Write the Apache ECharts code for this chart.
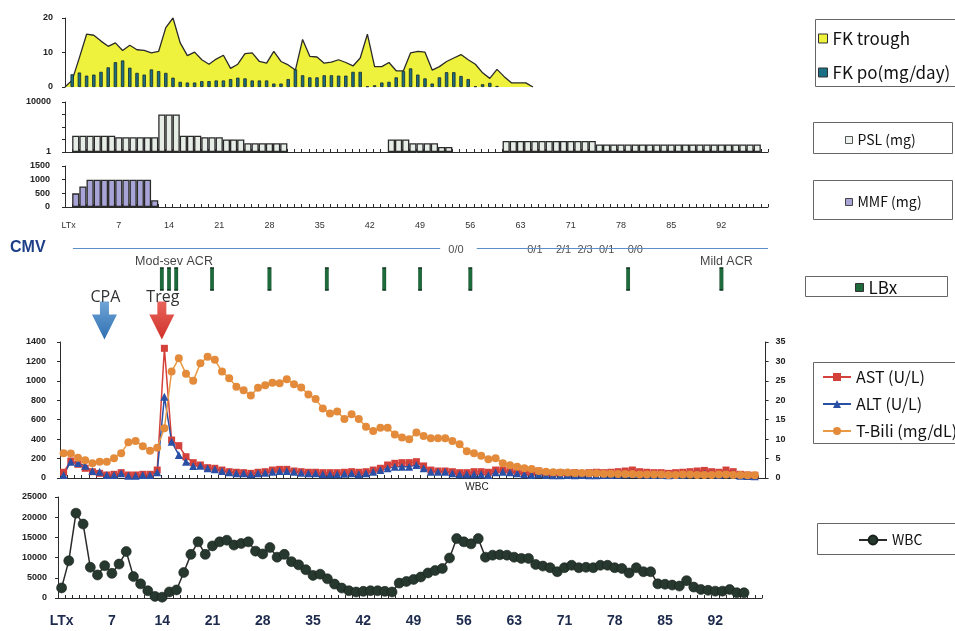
<!DOCTYPE html>
<html>
<head>
<meta charset="utf-8">
<script src="https://cdn.jsdelivr.net/npm/echarts@6/dist/echarts.min.js"></script>
<style>
  html, body { margin: 0; padding: 0; background: #fff; }
  #c { width: 955px; height: 631px; }
</style>
</head>
<body>
<div id="c"></div>
<script>
// ---- Day axis (post-transplant day 0..97) ----
const days = Array.from({ length: 98 }, (_, i) => String(i));
const dayTickLabels = ['LTx', '7', '14', '21', '28', '35', '42', '49', '56', '63', '71', '78', '85', '92'];

// ---- Tacrolimus (FK) ----
const fkTrough = [
  0, 2, 8.5, 15.3, 15, 13.3, 11.8, 12.8, 10.6, 12.1, 10.8, 10.6, 9.9, 10.3, 17.2, 20,
  12.8, 9.1, 10.1, 7.9, 6.6, 8.1, 9.2, 5.4, 6.6, 9.7, 9.9, 7.4, 6.9, 10.3, 7.4, 6.4,
  4.9, 13.8, 8.9, 8.7, 6.9, 7.2, 7.9, 7.1, 6.1, 8.4, 15.3, 5.9, 5.9, 7.1, 4.7, 4.7,
  9.9, 10.3, 10.1, 4.9, 5.9, 7.4, 8.4, 9.4, 7.9, 6.6, 4.1, 2.5, 5.1, 3.0, 1.2, 1.2,
  1.2, 0, null, null, null, null, null, null, null, null, null, null, null, null, null, null,
  null, null, null, null, null, null, null, null, null, null, null, null, null, null, null, null,
  null, null
];
const fkDose = [
  null, 3.7, 4.2, 3.3, 3.6, 4.4, 5.7, 7.2, 7.7, 5.6, 4.1, 3.6, 5.1, 4.6, 4.1, 2.7,
  1.5, 1.3, 1.3, 1.7, 1.7, 1.9, 1.9, 2.3, 2.7, 2.5, 1.9, 1.9, 1.9, 1.0, 1.0, 2.3,
  5.1, 3.4, 2.8, 2.8, 3.4, 3.4, 3.3, 3.3, 4.4, 4.4, 0.2, 0.5, 1.3, 1.5, 2.8, 4.6,
  5.4, 3.6, 2.5, 1.0, 2.8, 4.3, 4.3, 3.2, 2.3, 0.2, 0.8, 1.2, 0.3, null, null, null,
  null, null, null, null, null, null, null, null, null, null, null, null, null, null, null, null,
  null, null, null, null, null, null, null, null, null, null, null, null, null, null, null, null,
  null, null
];

// ---- Prednisolone (mg), log scale ----
const psl = [
  null, 20, 20, 20, 20, 20, 20, 15, 15, 15, 15, 15, 15, 1000, 1000, 1000,
  20, 20, 20, 15, 15, 15, 10, 10, 10, 5, 5, 5, 5, 5, 5, null,
  null, null, null, null, null, null, null, null, null, null, null, null, null, 10, 10, 10,
  5, 5, 5, 5, 2.5, 2.5, null, null, null, null, null, null, null, 7.5, 7.5, 7.5,
  7.5, 7.5, 7.5, 7.5, 7.5, 7.5, 7.5, 7.5, 7.5, 7.5, 4, 4, 4, 4, 4, 4,
  4, 4, 4, 4, 4, 4, 4, 4, 4, 4, 4, 4, 4, 4, 4, 4,
  4, null
];

// ---- Mycophenolate mofetil (mg) ----
const mmf = [
  null, 500, 750, 1000, 1000, 1000, 1000, 1000, 1000, 1000, 1000, 1000, 250, null, null, null,
  null, null, null, null, null, null, null, null, null, null, null, null, null, null, null, null,
  null, null, null, null, null, null, null, null, null, null, null, null, null, null, null, null,
  null, null, null, null, null, null, null, null, null, null, null, null, null, null, null, null,
  null, null, null, null, null, null, null, null, null, null, null, null, null, null, null, null,
  null, null, null, null, null, null, null, null, null, null, null, null, null, null, null, null,
  null, null
];

// ---- CMV antigenemia, biopsies, interventions ----
const cmvDays = [54, 65, 69, 72, 75, 79];
const cmvTexts = ['0/0', '0/1', '2/1', '2/3', '0/1', '0/0'];
const cmvLineSpans = [[0.6, 51.8], [56.9, 97.5]];
const lbxDays = [13, 14, 15, 20, 28, 36, 44, 49, 56, 78, 91];
const acrDays = [14, 91];
const acrTexts = ['Mod-sev ACR', 'Mild ACR'];
const interventionDays = [5, 13];
const interventionNames = ['CPA', 'Treg'];

// ---- Liver tests ----
const ast = [
  59, 175, 141, 100, 65, 48, 31, 38, 55, 31, 31, 38, 38, 82, 1335, 391,
  333, 219, 158, 134, 106, 100, 82, 65, 59, 55, 48, 59, 65, 82, 89, 89,
  72, 65, 59, 59, 55, 55, 55, 59, 65, 59, 65, 82, 100, 134, 151, 158,
  158, 168, 124, 82, 72, 72, 65, 55, 55, 65, 65, 59, 82, 82, 72, 65,
  59, 59, 72, 55, 48, 55, 48, 55, 48, 55, 59, 55, 59, 65, 72, 82,
  65, 59, 55, 55, 48, 55, 59, 65, 72, 78, 65, 59, 82, 65, 38, 31,
  28, null
];
const alt = [
  31, 168, 155, 125, 72, 65, 31, 31, 48, 24, 24, 31, 31, 59, 837, 374,
  237, 168, 124, 127, 100, 89, 72, 59, 48, 48, 38, 48, 55, 65, 72, 72,
  65, 55, 48, 48, 38, 38, 38, 45, 48, 38, 48, 65, 82, 100, 117, 117,
  117, 134, 100, 65, 65, 65, 48, 38, 38, 38, 38, 31, 59, 65, 59, 48,
  38, 31, 38, 31, 28, 28, 31, 28, 31, 28, 28, 31, 31, 34, 38, 45,
  38, 34, 31, 31, 28, 31, 34, 38, 41, 45, 38, 34, 45, 38, 24, 21,
  17, null
];
const tBili = [
  6.4, 6.3, 5.2, 4.6, 3.8, 4.2, 4.2, 5.1, 6.4, 9.2, 9.5, 8.2, 7.0, 7.8, 12.8, 27.4,
  30.8, 26.8, 25.0, 29.5, 31.2, 30.4, 27.4, 25.7, 23.5, 22.6, 21.2, 23.2, 23.9, 24.5, 24.4, 25.4,
  24.1, 23.3, 21.5, 20.3, 17.9, 16.6, 17.1, 15.2, 16.4, 15.2, 13.2, 12.1, 12.9, 12.9, 11.2, 10.4,
  10.0, 11.7, 10.8, 10.2, 10.2, 10.2, 9.5, 8.7, 6.9, 6.4, 5.7, 4.8, 5.1, 3.8, 3.3, 2.9,
  2.5, 2.3, 1.8, 1.6, 1.5, 1.4, 1.4, 1.3, 1.3, 1.2, 1.2, 1.1, 1.1, 1.0, 1.0, 1.0,
  0.9, 0.9, 0.9, 0.9, 0.8, 0.8, 0.9, 0.9, 0.8, 0.8, 0.8, 0.9, 0.9, 0.8, 0.8, 0.7,
  0.7, null
];

// ---- White blood cells ----
const wbc = [
  2500, 9200, 21000, 18300, 7600, 5700, 8000, 6100, 8400, 11500, 5300, 3500, 1800, 400, 200, 1500,
  2000, 6300, 10800, 13900, 10800, 12900, 13900, 14300, 13100, 13500, 13900, 11600, 10900, 12500, 10100, 10800,
  9000, 8200, 7000, 5600, 5900, 4750, 3440, 2460, 1800, 1480, 1640, 1800, 1800, 1640, 1480, 3690,
  4100, 4600, 5200, 6200, 6800, 7300, 9900, 14700, 13900, 13400, 14700, 10100, 10600, 10700, 10600, 10100,
  9800, 9800, 8300, 7900, 7500, 6500, 7500, 8100, 7500, 7600, 7500, 8100, 8100, 7500, 7300, 6200,
  7500, 6500, 6500, 3500, 3400, 3200, 2950, 4300, 2700, 2100, 1900, 1700, 1700, 2100, 1300, 1300,
  null, null
];

// ---- Styling ----
const AXIS = '#2b2b2b';
const LABEL_FONT = 'Liberation Sans';
const LEGEND_FONT = 'Noto Sans CJK JP';

// vertical rows inside the annotation strip (pixels from its top)
const CMV_LINE_ROW = 8, CMV_TEXT_ROW = 10, ACR_ROW = 22, LBX_ROW = 39, ARROW_ROW = 80.5;

const dayLabel = (v, idx) => dayTickLabels[idx / 7] !== undefined ? dayTickLabels[idx / 7] : '';
const plainNumber = v => String(v);

function catAxis(gridIndex, extra) {
  return Object.assign({
    type: 'category', gridIndex, data: days, boundaryGap: true,
    axisLine: { show: true, lineStyle: { color: AXIS, width: 1 } },
    axisTick: { show: true, inside: true, length: 3, interval: 0, lineStyle: { color: AXIS } },
    axisLabel: { show: false },
    splitLine: { show: false }
  }, extra || {});
}
function valLabel(margin) {
  return { fontSize: 9, fontWeight: 'bold', color: '#222', fontFamily: LABEL_FONT, margin, formatter: plainNumber };
}
function valAxis(gridIndex, extra) {
  return Object.assign({
    type: 'value', gridIndex,
    axisLine: { show: true, lineStyle: { color: AXIS, width: 1 } },
    axisTick: { show: true, inside: false, length: 3, lineStyle: { color: AXIS } },
    axisLabel: valLabel(12),
    splitLine: { show: false }
  }, extra || {});
}
const ghost = { color: 'rgba(0,0,0,0)' };

const chart = echarts.init(document.getElementById('c'));

chart.setOption({
  animation: false,
  backgroundColor: '#fff',
  grid: [
    { left: 65, top: 18, width: 698.4, height: 69, outerBoundsMode: 'none' },   // FK
    { left: 65, top: 102, width: 703, height: 50, outerBoundsMode: 'none' },    // PSL
    { left: 65, top: 166, width: 703, height: 41, outerBoundsMode: 'none' },    // MMF
    { left: 65, top: 240, width: 703, height: 105, outerBoundsMode: 'none' },   // annotations
    { left: 60, top: 342, width: 705.6, height: 136, outerBoundsMode: 'none' }, // liver tests
    { left: 58, top: 497, width: 704, height: 101, outerBoundsMode: 'none' }    // WBC
  ],
  xAxis: [
    catAxis(0, { boundaryGap: false, axisLine: { show: false }, axisTick: { show: false } }),
    catAxis(1),
    catAxis(2, {
      axisLabel: { show: true, interval: 6, formatter: dayLabel, fontSize: 9, color: '#333',
                   fontFamily: LABEL_FONT, margin: 14 }
    }),
    { type: 'value', gridIndex: 3, min: -0.5, max: 97.5, show: false },
    catAxis(4),
    catAxis(5, {
      axisLabel: { show: true, interval: 6, formatter: dayLabel, fontSize: 14, fontWeight: 'bold',
                   color: '#1d2a4d', fontFamily: LABEL_FONT, margin: 16 }
    })
  ],
  yAxis: [
    valAxis(0, { min: 0, max: 20, interval: 10 }),
    valAxis(1, {
      type: 'log', logBase: 10, min: 1, max: 10000,
      axisLabel: Object.assign(valLabel(14), { formatter: v => (v === 1 || v === 10000) ? String(v) : '' })
    }),
    valAxis(2, { min: 0, max: 1500, interval: 500, axisLabel: valLabel(15) }),
    { type: 'value', gridIndex: 3, min: 0, max: 105, inverse: true, show: false },
    valAxis(4, { min: 0, max: 1400, interval: 200, axisLabel: valLabel(14) }),
    valAxis(4, { position: 'right', min: 0, max: 35, interval: 5, axisLabel: valLabel(10) }),
    valAxis(5, { min: 0, max: 25000, interval: 5000, axisLabel: valLabel(11) })
  ],
  legend: [
    { data: [
        { name: 'FK trough', itemStyle: { color: '#eef23c', borderColor: '#333', borderWidth: 1 } },
        { name: 'FK po(mg/day)', itemStyle: { color: '#1b6f86', borderColor: '#333', borderWidth: 1 } }
      ],
      orient: 'vertical', left: 818, top: 30, itemWidth: 9, itemHeight: 9, itemGap: 17, icon: 'rect',
      padding: 0, selectedMode: false, textStyle: { fontSize: 17, color: '#111', fontFamily: LEGEND_FONT } },
    { data: [{ name: 'PSL (mg)', itemStyle: { color: '#eef2ee', borderColor: '#555', borderWidth: 1 } }],
      left: 845, top: 133, itemWidth: 7, itemHeight: 7, icon: 'rect', padding: 0, selectedMode: false,
      textStyle: { fontSize: 14, color: '#111', fontFamily: LEGEND_FONT } },
    { data: [{ name: 'MMF (mg)', itemStyle: { color: '#a9a4d8', borderColor: '#444', borderWidth: 1 } }],
      left: 845, top: 195, itemWidth: 7, itemHeight: 7, icon: 'rect', padding: 0, selectedMode: false,
      textStyle: { fontSize: 14, color: '#111', fontFamily: LEGEND_FONT } },
    { data: [{ name: 'LBx', itemStyle: { color: '#1d6a3b', borderColor: '#333', borderWidth: 1 } }],
      left: 855, top: 279, itemWidth: 8, itemHeight: 8, icon: 'rect', padding: 0, selectedMode: false,
      textStyle: { fontSize: 17, color: '#111', fontFamily: LEGEND_FONT } },
    { data: ['AST (U/L)', 'ALT (U/L)', 'T-Bili (mg/dL)'],
      orient: 'vertical', left: 822, top: 369, itemWidth: 28, itemHeight: 10, itemGap: 11, padding: 0,
      selectedMode: false, textStyle: { fontSize: 16, color: '#111', fontFamily: LEGEND_FONT } },
    { data: ['WBC'], left: 858, top: 533, itemWidth: 28, itemHeight: 11, padding: 0, selectedMode: false,
      textStyle: { fontSize: 14, color: '#111', fontFamily: LEGEND_FONT } }
  ],
  graphic: [
    { type: 'rect', shape: { x: 815.5, y: 19.5, width: 160, height: 67 }, style: { fill: 'none', stroke: '#666', lineWidth: 1 } },
    { type: 'rect', shape: { x: 813.5, y: 122.5, width: 139, height: 31 }, style: { fill: 'none', stroke: '#666', lineWidth: 1 } },
    { type: 'rect', shape: { x: 813.5, y: 180.5, width: 139, height: 39 }, style: { fill: 'none', stroke: '#666', lineWidth: 1 } },
    { type: 'rect', shape: { x: 805.5, y: 276.5, width: 142, height: 20 }, style: { fill: 'none', stroke: '#666', lineWidth: 1 } },
    { type: 'rect', shape: { x: 813.5, y: 362.5, width: 160, height: 81 }, style: { fill: 'none', stroke: '#666', lineWidth: 1 } },
    { type: 'rect', shape: { x: 817.5, y: 523.5, width: 160, height: 31 }, style: { fill: 'none', stroke: '#666', lineWidth: 1 } },
    { type: 'text', x: 10, y: 248, style: { text: 'CMV', font: 'bold 16px "Liberation Sans"', fill: '#1d3f87', verticalAlign: 'middle' } },
    { type: 'text', x: 477, y: 487, style: { text: 'WBC', font: '10px "Liberation Sans"', fill: '#222', align: 'center', verticalAlign: 'middle' } }
  ],
  series: [
    // FK trough level (area) and oral dose (bars drawn above the area)
    { name: 'FK trough', type: 'line', z: 2, xAxisIndex: 0, yAxisIndex: 0, data: fkTrough, symbol: 'none',
      lineStyle: { color: '#2a2a2a', width: 1.3 }, itemStyle: { color: '#eef23c' },
      areaStyle: { color: '#eef23c', opacity: 1 } },
    { name: 'FK po(mg/day)', type: 'bar', z: 5, xAxisIndex: 0, yAxisIndex: 0, data: fkDose, barWidth: 3.4,
      itemStyle: { color: '#1b6f86', borderColor: '#1a2a2a', borderWidth: 0.8 } },
    // PSL
    { name: 'PSL (mg)', type: 'bar', xAxisIndex: 1, yAxisIndex: 1, data: psl, barCategoryGap: '0%',
      itemStyle: { color: '#e6ede6', borderColor: '#2a2a2a', borderWidth: 1.3 } },
    // MMF
    { name: 'MMF (mg)', type: 'bar', xAxisIndex: 2, yAxisIndex: 2, data: mmf, barCategoryGap: '0%',
      itemStyle: { color: '#a9a4d8', borderColor: '#2a2a2a', borderWidth: 1.3 } },
    // CMV antigenemia text and timeline
    { name: 'CMV', type: 'scatter', xAxisIndex: 3, yAxisIndex: 3, symbol: 'rect', symbolSize: 1,
      itemStyle: ghost,
      data: cmvDays.map((d, i) => ({ value: [d, CMV_TEXT_ROW], name: cmvTexts[i] })),
      label: { show: true, position: 'inside', formatter: '{b}', fontSize: 11, color: '#222', fontFamily: LABEL_FONT },
      markLine: {
        silent: true, symbol: 'none', label: { show: false },
        lineStyle: { color: '#5b8fc8', width: 1.2, type: 'solid' },
        data: cmvLineSpans.map(([a, b]) => [{ coord: [a, CMV_LINE_ROW] }, { coord: [b, CMV_LINE_ROW] }])
      } },
    // rejection grade notes
    { name: 'ACR', type: 'scatter', xAxisIndex: 3, yAxisIndex: 3, symbol: 'rect', symbolSize: 1,
      itemStyle: ghost,
      data: acrDays.map((d, i) => ({ value: [d, ACR_ROW], name: acrTexts[i] })),
      label: { show: true, position: 'inside', offset: [5, 0], formatter: '{b}', fontSize: 12.5,
               color: '#111', fontFamily: LABEL_FONT } },
    // liver biopsies
    { name: 'LBx', type: 'scatter', xAxisIndex: 3, yAxisIndex: 3, symbol: 'rect', symbolSize: [3.6, 22],
      itemStyle: { color: '#1d6a3b', borderColor: '#0f3320', borderWidth: 0.6, opacity: 1 },
      data: lbxDays.map(d => [d, LBX_ROW]) },
    // CPA / Treg administration
    { name: 'Interventions', type: 'scatter', xAxisIndex: 3, yAxisIndex: 3,
      symbol: 'path://M8,0 L17,0 L17,13 L25,13 L12.5,38 L0,13 L8,13 Z', symbolSize: [25, 38],
      data: interventionDays.map((d, i) => ({
        value: [d, ARROW_ROW], name: interventionNames[i],
        itemStyle: { opacity: 1, color: new echarts.graphic.LinearGradient(0, 0, 0, 1, i === 0
          ? [{ offset: 0, color: '#6fa4d6' }, { offset: 1, color: '#2f6fb1' }]
          : [{ offset: 0, color: '#e9645c' }, { offset: 1, color: '#cf3129' }]) }
      })),
      label: { show: true, position: 'inside', offset: [1, -23], formatter: '{b}', fontSize: 16,
               color: '#333', fontFamily: 'Open Sans' } },
    // liver tests
    { name: 'AST (U/L)', type: 'line', xAxisIndex: 4, yAxisIndex: 4, data: ast, symbol: 'rect', symbolSize: 7,
      showAllSymbol: true, lineStyle: { color: '#d4403a', width: 1.5 }, itemStyle: { color: '#d4403a' } },
    { name: 'ALT (U/L)', type: 'line', xAxisIndex: 4, yAxisIndex: 4, data: alt, symbol: 'triangle', symbolSize: 8,
      showAllSymbol: true, lineStyle: { color: '#2a50a6', width: 1.5 }, itemStyle: { color: '#2a50a6' } },
    { name: 'T-Bili (mg/dL)', type: 'line', xAxisIndex: 4, yAxisIndex: 5, data: tBili, symbol: 'circle', symbolSize: 8,
      showAllSymbol: true, lineStyle: { color: '#e99a45', width: 1.5 }, itemStyle: { color: '#e38b3b' } },
    // WBC
    { name: 'WBC', type: 'line', xAxisIndex: 5, yAxisIndex: 6, data: wbc, symbol: 'circle', symbolSize: 10,
      showAllSymbol: true, lineStyle: { color: '#2a2a2a', width: 1.5 },
      itemStyle: { color: '#27382f', borderColor: '#18221c', borderWidth: 0.6 } }
  ]
});
</script>
</body>
</html>
